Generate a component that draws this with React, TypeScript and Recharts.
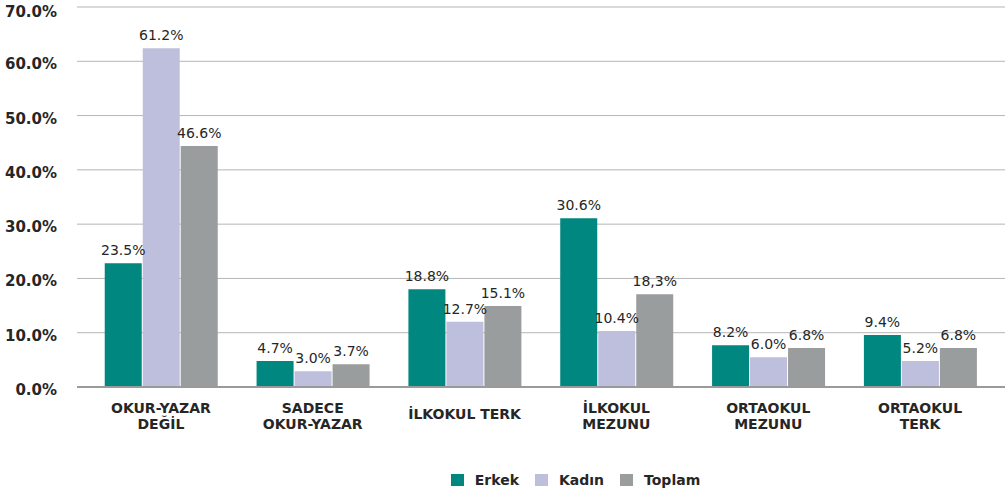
import { BarChart, Bar, XAxis, YAxis, CartesianGrid, Legend, LabelList } from "recharts"

const categories = ["OKUR-YAZAR|DEĞİL", "SADECE|OKUR-YAZAR", "İLKOKUL TERK", "İLKOKUL|MEZUNU", "ORTAOKUL|MEZUNU", "ORTAOKUL|TERK"]

// bar heights as drawn in the picture
const erkek = [22.8, 4.8, 18.0, 31.1, 7.7, 9.6]
const kadin = [62.4, 2.9, 12.0, 10.3, 5.5, 4.8]
const toplam = [44.4, 4.2, 14.9, 17.1, 7.2, 7.2]

// value labels as printed
const erkekLabels = ["23.5%", "4.7%", "18.8%", "30.6%", "8.2%", "9.4%"]
const kadinLabels = ["61.2%", "3.0%", "12.7%", "10.4%", "6.0%", "5.2%"]
const toplamLabels = ["46.6%", "3.7%", "15.1%", "18,3%", "6.8%", "6.8%"]

const yTicks = [0, 10, 20, 30, 40, 50, 60, 70]

const series = [
  { key: "erkek", label: "erkekLabel", name: "Erkek", color: "#00877f" },
  { key: "kadin", label: "kadinLabel", name: "Kadın", color: "#bebedd" },
  { key: "toplam", label: "toplamLabel", name: "Toplam", color: "#9a9d9d" },
]

const data = categories.map((c, i) => ({
  category: c,
  erkek: erkek[i],
  kadin: kadin[i],
  toplam: toplam[i],
  erkekLabel: erkekLabels[i],
  kadinLabel: kadinLabels[i],
  toplamLabel: toplamLabels[i],
}))

const FONT = "'DejaVu Sans', sans-serif"
const INK = "#262626"

function CategoryTick({ x, y, payload }: any) {
  const lines = String(payload.value).split("|")
  return (
    <text x={x} y={y} textAnchor="middle" fill={INK} fontFamily={FONT} fontSize={14} fontWeight={700}>
      {lines.length === 1 ? (
        <tspan x={x} dy={24}>{lines[0]}</tspan>
      ) : (
        lines.map((l, i) => (
          <tspan key={i} x={x} dy={i === 0 ? 18 : 16}>{l}</tspan>
        ))
      )}
    </text>
  )
}

function ValueTick({ x, y, payload }: any) {
  return (
    <text x={x} y={y + 8} textAnchor="end" fill={INK} fontFamily={FONT} fontSize={15} fontWeight={700}>
      {`${Number(payload.value).toFixed(1)}%`}
    </text>
  )
}

function LegendContent() {
  return (
    <div style={{ display: "flex", justifyContent: "center", paddingLeft: 146, height: 20, lineHeight: "20px", fontFamily: FONT, fontSize: 14, fontWeight: 700, color: INK }}>
      {series.map((s) => (
        <div key={s.key} style={{ display: "flex", alignItems: "center", margin: "0 8px" }}>
          <span style={{ display: "inline-block", width: 13, height: 12, background: s.color, marginRight: 11 }} />
          <span>{s.name}</span>
        </div>
      ))}
    </div>
  )
}

export default function App() {
  return (
    <div style={{ position: "absolute", left: 0, top: 0, width: 1006, height: 495, background: "#fff" }}>
      <BarChart width={1006} height={495} data={data} margin={{ top: 7, right: 1, left: 0, bottom: 5 }} barGap={1} barCategoryGap="13%">
        <CartesianGrid vertical={false} stroke="#b5b5b5" strokeWidth={1} />
        <XAxis
          dataKey="category"
          height={83}
          interval={0}
          padding={{ left: 8, right: 9 }}
          tickLine={false}
          axisLine={{ stroke: "#9a9a9a", strokeWidth: 2 }}
          tick={<CategoryTick />}
        />
        <YAxis
          width={77}
          domain={[0, 70]}
          ticks={yTicks}
          axisLine={false}
          tickLine={false}
          tickSize={6}
          tickMargin={14}
          tick={<ValueTick />}
        />
        <Legend verticalAlign="bottom" content={<LegendContent />} />
        {series.map((s) => (
          <Bar key={s.key} dataKey={s.key} name={s.name} fill={s.color} isAnimationActive={false}>
            <LabelList dataKey={s.label} position="top" offset={8} fill={INK} fontFamily={FONT} fontSize={14} />
          </Bar>
        ))}
      </BarChart>
    </div>
  )
}
